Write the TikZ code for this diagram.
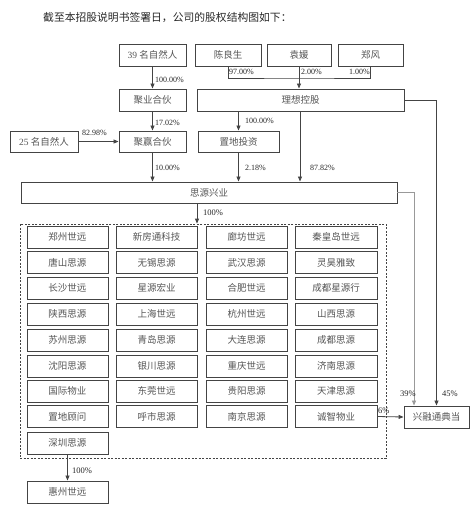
\documentclass[tikz,border=0pt]{standalone}
\usepackage{fontspec}
\setmainfont{Liberation Serif}
\newfontfamily\cjk{Noto Sans CJK SC}
\usetikzlibrary{arrows.meta}
\definecolor{bline}{HTML}{444444}
\definecolor{btext}{HTML}{555555}
\definecolor{lline}{HTML}{999999}
\tikzset{
  bx/.style={draw=bline, line width=0.9pt, text=btext, font=\cjk\fontsize{9.5}{10}\selectfont, inner sep=0pt, minimum height=22pt},
  arr/.style={draw=bline, line width=0.8pt, -{Triangle[length=5pt,width=4pt]}},
  ln/.style={draw=bline, line width=0.8pt},
  pct/.style={font=\fontsize{8}{9}\selectfont, text=black!85, inner sep=0pt},
}
\begin{document}
\begin{tikzpicture}[x=1pt,y=-1pt]
\useasboundingbox (0,0) rectangle (476,507);
% title
\node[anchor=west, inner sep=0pt, font=\cjk\fontsize{10.8}{12}\selectfont, text=black!85] (title) at (43,18) {截至本招股说明书签署日，公司的股权结构图如下：};
% top row
\node[bx, minimum width=67pt] (p39) at (152.5,55) {\fontsize{9.5}{10}\selectfont\rmfamily 39 \cjk 名自然人};
\node[bx, minimum width=66pt] (chen) at (228,55) {陈良生};
\node[bx, minimum width=64pt] (yuan) at (299,55) {袁媛};
\node[bx, minimum width=65pt] (zheng) at (370.5,55) {郑风};
% second row
\node[bx, minimum width=67pt] (juye) at (152.5,100) {聚业合伙};
\node[bx, minimum width=207pt] (lixiang) at (300.5,100) {理想控股};
% third row
\node[bx, minimum width=68pt, minimum height=21pt] (p25) at (44,141.5) {\fontsize{9.5}{10}\selectfont\rmfamily 25 \cjk 名自然人};
\node[bx, minimum width=67pt, minimum height=21pt] (juying) at (152.5,141.5) {聚赢合伙};
\node[bx, minimum width=81pt, minimum height=21pt] (zhidi) at (238.5,141.5) {置地投资};
% siyuan xingye
\node[bx, minimum width=376pt, minimum height=21pt] (siyuan) at (209,192.5) {思源兴业};
% dashed box
\node[draw=bline, line width=0.8pt, dashed, dash pattern=on 2pt off 1.5pt, minimum width=366pt, minimum height=234pt, inner sep=0pt] (dbox) at (203,341) {};
% grid
\foreach \r/\y/\a/\b/\c/\d in {
  1/237/郑州世远/新房通科技/廊坊世远/秦皇岛世远,
  2/262.5/唐山思源/无锡思源/武汉思源/灵昊雅致,
  3/288/长沙世远/星源宏业/合肥世远/成都星源行,
  4/314/陕西思源/上海世远/杭州世远/山西思源,
  5/340/苏州思源/青岛思源/大连思源/成都思源,
  6/366/沈阳思源/银川思源/重庆世远/济南思源,
  7/391/国际物业/东莞世远/贵阳思源/天津思源,
  8/416.5/置地顾问/呼市思源/南京思源/诚智物业}{
  \node[bx, minimum width=81pt] (g\r1) at (67.5,\y) {\a};
  \node[bx, minimum width=81pt] (g\r2) at (156.5,\y) {\b};
  \node[bx, minimum width=81pt] (g\r3) at (246.5,\y) {\c};
  \node[bx, minimum width=82pt] (g\r4) at (336,\y) {\d};
}
\node[bx, minimum width=81pt] (g91) at (67.5,443) {深圳思源};
\node[bx, minimum width=81pt] (huizhou) at (67.5,492) {惠州世远};
\node[bx, minimum width=65pt] (xrt) at (436.5,417) {兴融通典当};
% connectors
\draw[arr] (p39.south) -- (juye.north);
\draw[ln] (chen.south) |- (299,78) -| (zheng.south);
\draw[arr] (yuan.south) -- (yuan.south |- lixiang.north);
\draw[arr] (juye.south) -- (juying.north);
\draw[arr] (zhidi.north |- lixiang.south) -- (zhidi.north);
\draw[arr] (p25.east) -- (juying.west);
\draw[arr] (juying.south) -- (juying.south |- siyuan.north);
\draw[arr] (zhidi.south) -- (zhidi.south |- siyuan.north);
\draw[arr] ([xshift=-0.5pt]lixiang.south) -- ([xshift=-0.5pt]lixiang.south |- siyuan.north);
\draw[arr] (lixiang.east) -| (xrt.north);
\draw[arr, draw=lline] (siyuan.east) -| ([xshift=-22.5pt]xrt.north);
\draw[arr] ([xshift=-12pt]siyuan.south) -- ([xshift=-12pt]siyuan.south |- dbox.north);
\draw[arr] (g91.south) -- (huizhou.north);
\draw[arr] (g84.east) -- (xrt.west);
% labels
\node[pct, anchor=west] (l1) at (155,80) {100.00\%};
\node[pct, anchor=west] (l2) at (229,72) {97.00\%};
\node[pct, anchor=west] (l3) at (301,72) {2.00\%};
\node[pct, anchor=east] (l4) at (370,72) {1.00\%};
\node[pct, anchor=west] (l5) at (245,121) {100.00\%};
\node[pct, anchor=west] (l6) at (155,123) {17.02\%};
\node[pct, anchor=west] (l7) at (82,133) {82.98\%};
\node[pct, anchor=west] (l8) at (155,168) {10.00\%};
\node[pct, anchor=west] (l9) at (245,168) {2.18\%};
\node[pct, anchor=west] (l10) at (310,168) {87.82\%};
\node[pct, anchor=west, font=\fontsize{8.5}{9}\selectfont] (l11) at (203,213) {100\%};
\node[pct, anchor=west, font=\fontsize{8.5}{9}\selectfont] (l12) at (72,471) {100\%};
\node[pct, anchor=west, font=\fontsize{8.5}{9}\selectfont] (l13) at (378,411) {6\%};
\node[pct, anchor=west, font=\fontsize{8.5}{9}\selectfont] (l14) at (400,394) {39\%};
\node[pct, anchor=west, font=\fontsize{8.5}{9}\selectfont] (l15) at (442,394) {45\%};
\end{tikzpicture}
\end{document}
